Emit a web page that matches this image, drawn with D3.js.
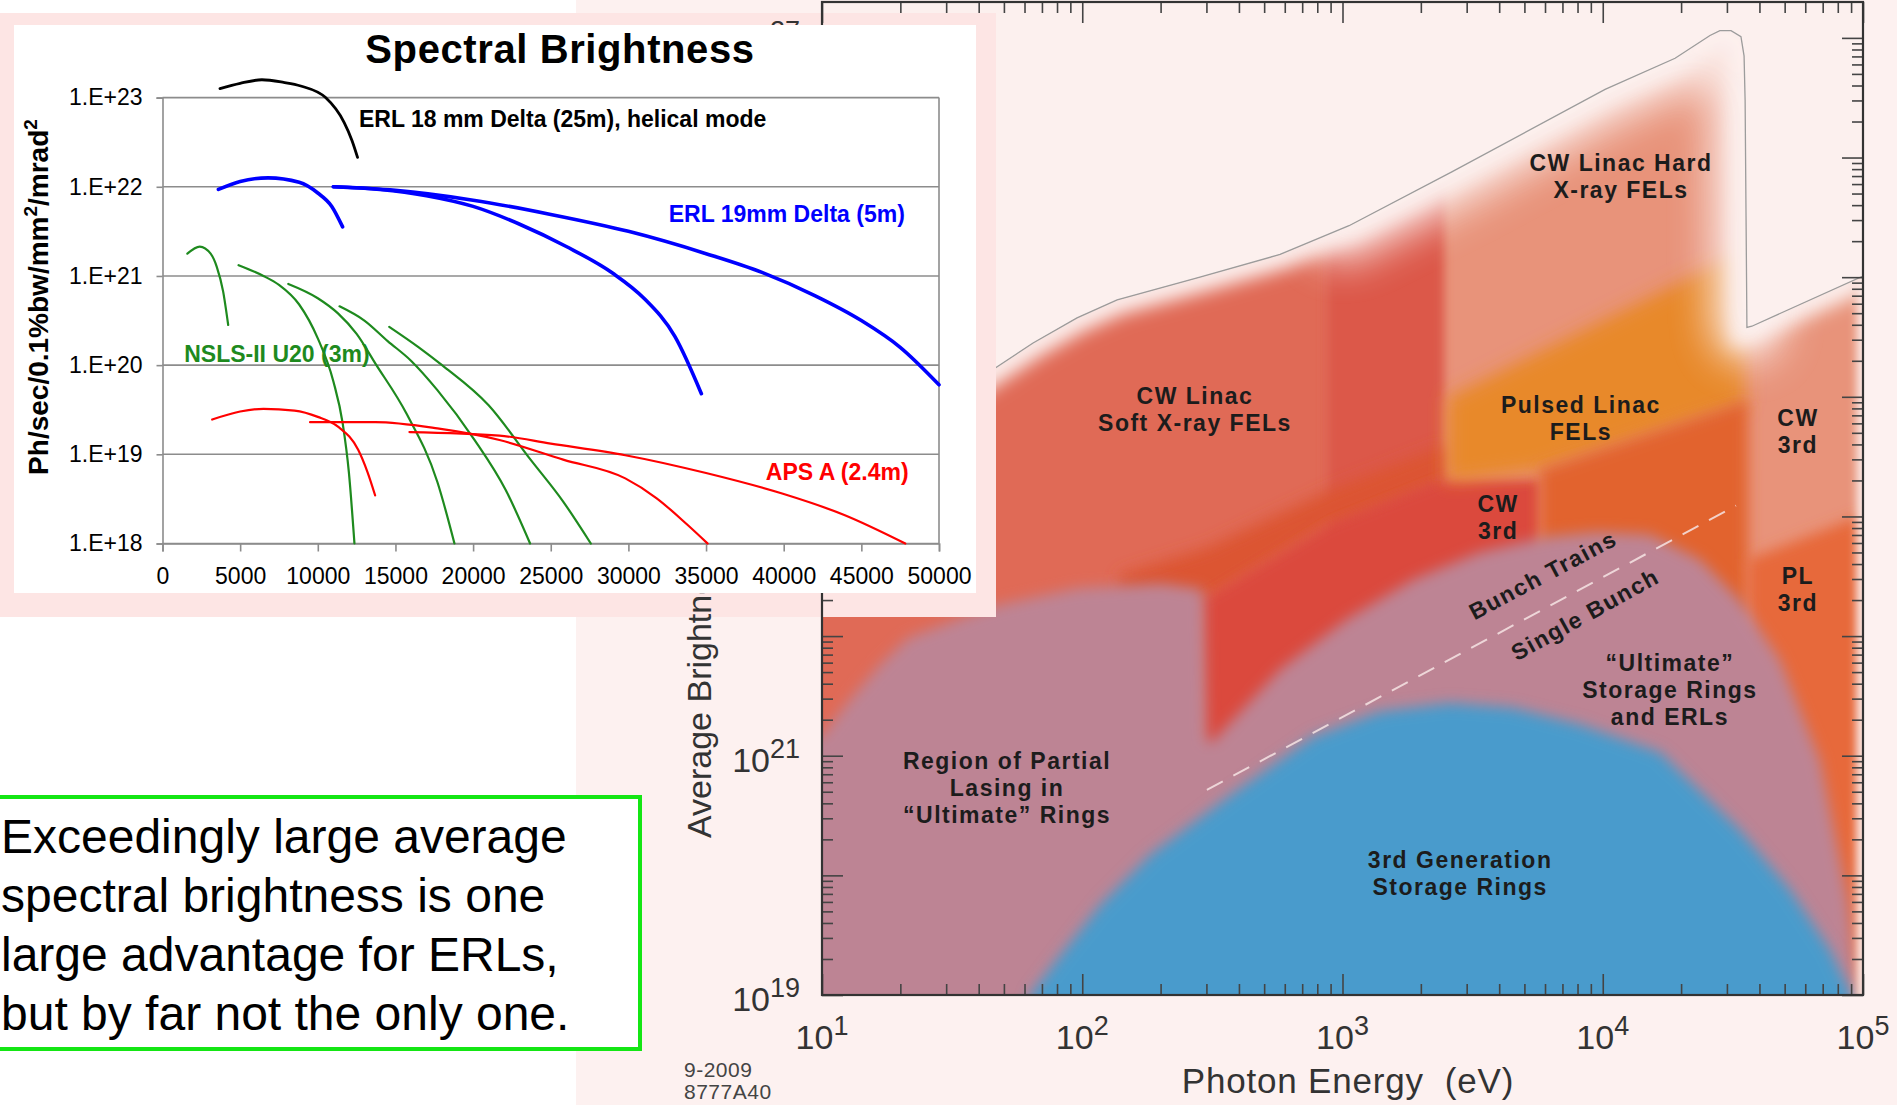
<!DOCTYPE html>
<html>
<head>
<meta charset="utf-8">
<script src="https://cdn.jsdelivr.net/npm/d3@7"></script>
<style>
  html, body { margin: 0; padding: 0; background: #fff; overflow: hidden; }
  svg { display: block; font-family: "Liberation Sans", Arial, Helvetica, sans-serif; }
</style>
</head>
<body>
<svg id="chart" width="1897" height="1105"></svg>
<script>
// ---------- inset "Spectral Brightness": [photon energy eV, log10 brightness] ----------
const insetXTicks = [0, 5000, 10000, 15000, 20000, 25000, 30000, 35000, 40000, 45000, 50000];
const insetYTicks = [18, 19, 20, 21, 22, 23];

const erl18Helical = [[3700, 23.10], [5000, 23.16], [6400, 23.20], [7800, 23.17], [8900, 23.13],
  [10500, 23.00], [11700, 22.72], [12200, 22.52], [12560, 22.33]];

const erl19Delta = [
  [[3600, 21.97], [5000, 22.06], [6800, 22.10], [8800, 22.05], [10000, 21.93], [10900, 21.78], [11600, 21.55]],
  [[11000, 22.0], [14000, 21.97], [17000, 21.9], [20000, 21.78], [23000, 21.58], [26000, 21.33],
   [29000, 21.03], [31000, 20.75], [33000, 20.32], [34700, 19.68]],
  [[11000, 22.0], [15000, 21.96], [20000, 21.85], [25000, 21.69], [30000, 21.5], [35000, 21.25],
   [38600, 21.04], [42000, 20.78], [45000, 20.5], [47500, 20.2], [50000, 19.78]]
];

const nslsU20 = [
  [[1600, 21.25], [2400, 21.33], [3100, 21.25], [3500, 21.1], [3900, 20.83], [4230, 20.45]],
  [[4900, 21.12], [6500, 21.0], [7500, 20.9], [8800, 20.68], [10000, 20.3], [11000, 19.82],
   [11600, 19.35], [12000, 18.8], [12360, 18.0]],
  [[8100, 20.91], [10000, 20.75], [11300, 20.58], [12500, 20.35], [13700, 20.02], [15700, 19.46],
   [17700, 18.69], [18800, 18.0]],
  [[11400, 20.66], [13000, 20.5], [14500, 20.27], [16000, 20.05], [17700, 19.72], [20100, 19.16],
   [22100, 18.6], [23670, 18.0]],
  [[14600, 20.43], [16500, 20.2], [18000, 20.0], [21000, 19.55], [23700, 18.94], [25800, 18.47], [27580, 18.0]]
];

const apsA = [
  [[3200, 19.39], [5000, 19.48], [6500, 19.51], [8500, 19.49], [10000, 19.42], [11300, 19.31],
   [12600, 19.05], [13200, 18.8], [13690, 18.54]],
  [[9500, 19.36], [13700, 19.36], [17700, 19.29], [21700, 19.16], [25800, 18.94], [29800, 18.73],
   [31800, 18.51], [33800, 18.21], [35100, 18.0]],
  [[15900, 19.25], [21700, 19.21], [25000, 19.12], [29800, 18.99], [35000, 18.79], [39900, 18.56],
   [43900, 18.32], [47830, 18.0]]
];

const insetSeries = [
  { name: "ERL 18 mm Delta (25m), helical mode", curves: [erl18Helical], color: "#000000", width: 2.8, label: [12650, 22.67] },
  { name: "ERL 19mm Delta (5m)", curves: erl19Delta, color: "#0000ff", width: 3.6, label: [32600, 21.6] },
  { name: "NSLS-II U20 (3m)", curves: nslsU20, color: "#1e8a1e", width: 2.2, label: [1400, 20.03] },
  { name: "APS A (2.4m)", curves: apsA, color: "#ff0000", width: 2.2, label: [38850, 18.71] }
];

// ---------- main chart regions: [log10 photon energy (eV), log10 average brightness] ----------
const xDecades = [1, 2, 3, 4, 5];
const yLabelDecades = [19, 21];
const topCutDecade = 27;   // only the tip of its exponent shows above the inset

const envelopeTop = [[0.9, 23.25], [1.0, 23.39], [1.30, 23.81], [1.596, 24.14], [1.811, 24.45], [1.98, 24.66],
  [2.134, 24.81], [2.452, 25.00], [2.76, 25.19], [3.025, 25.43], [3.42, 25.88], [4.009, 26.57],
  [4.278, 26.83], [4.412, 27.02], [4.45, 27.06], [4.493, 27.06], [4.531, 27.01], [4.543, 26.85],
  [4.547, 26.48], [4.554, 24.58], [4.573, 24.59], [5.0, 25.01]];
const hardXrayTop = [[3.0, 25.42], [3.42, 25.88], [4.009, 26.57], [4.278, 26.83], [4.412, 27.02],
  [4.493, 27.06], [4.531, 27.01], [4.547, 26.48], [4.554, 24.58]];

const softXrayFel = [[0.8, 28], [2.95, 28], [2.95, 18.5], [0.8, 18.5]];
const cw3rdColumn = [[2.935, 28], [3.39, 28], [3.39, 22.3], [2.935, 22.3]];
const cw3rdBand = [[2.145, 22.51], [2.479, 22.74], [2.952, 23.22], [3.394, 23.60], [3.394, 23.31],
  [2.952, 22.93], [2.479, 22.30], [2.145, 22.30]];
const cw3rdCore = [[2.46, 22.30], [2.952, 22.93], [3.394, 23.31], [3.759, 23.31], [3.759, 20.8], [2.46, 20.8]];
const pulsedLinac = [[3.402, 23.99], [4.547, 25.23], [4.547, 23.93], [3.759, 23.39], [3.402, 23.29]];
const pulsedOrangeRed = [[3.759, 23.39], [4.558, 23.97], [4.558, 22.14], [3.759, 22.14]];
const pl3rdColumn = [[4.558, 22.64], [4.996, 23.01], [4.996, 18.5], [4.558, 18.5]];
const ultimateRings = [[0.8, 21.0], [1.0, 21.17], [1.108, 21.47], [1.223, 21.76], [1.33, 21.985], [1.657, 22.25],
  [1.984, 22.40], [2.306, 22.44], [2.464, 22.39], [2.476, 21.12], [2.502, 21.12], [2.76, 21.72],
  [3.017, 22.14], [3.271, 22.47], [3.528, 22.70], [3.786, 22.83], [3.978, 22.87], [4.182, 22.85],
  [4.374, 22.64], [4.527, 22.30], [4.681, 21.80], [4.835, 20.96], [4.942, 19.79], [4.981, 19.0],
  [4.981, 18.5], [0.8, 18.5]];
const thirdGenRings = [[1.76, 18.5], [1.80, 19.0], [1.915, 19.33], [2.068, 19.75], [2.26, 20.17], [2.568, 20.67],
  [2.887, 21.16], [3.144, 21.37], [3.413, 21.44], [3.655, 21.40], [3.913, 21.26], [4.22, 21.03],
  [4.527, 20.38], [4.72, 19.88], [4.873, 19.38], [4.958, 19.0], [4.973, 18.5]];
const bunchDivider = [[2.479, 20.714], [4.512, 23.09]];

const regions = [
  { pts: softXrayFel, color: "#e06b56", blur: 5 },
  { pts: cw3rdColumn, color: "#dc5848", blur: 5 },
  { pts: cw3rdBand, color: "#dc5532", blur: 8 },
  { pts: cw3rdCore, color: "#db4a3e", blur: 6 },
  { pts: pulsedLinac, color: "#e8892c", blur: 9 },
  { pts: pulsedOrangeRed, color: "#e2632f", blur: 7 },
  { pts: pl3rdColumn, color: "#e7693a", blur: 7 },
  { pts: ultimateRings, color: "#bd8494", blur: 7 },
  { pts: thirdGenRings, color: "#4a9bcc", blur: 7 }
];

const regionLabels = [
  { lines: ["CW Linac Hard", "X-ray FELs"], at: [4.07, 25.84] },
  { lines: ["CW Linac", "Soft X-ray FELs"], at: [2.433, 23.895] },
  { lines: ["Pulsed Linac", "FELs"], at: [3.916, 23.82] },
  { lines: ["CW", "3rd"], at: [4.75, 23.71] },
  { lines: ["CW", "3rd"], at: [3.598, 22.99] },
  { lines: ["PL", "3rd"], at: [4.75, 22.386] },
  { lines: ["\u201CUltimate\u201D", "Storage Rings", "and ERLs"], at: [4.258, 21.55] },
  { lines: ["Region of Partial", "Lasing in", "\u201CUltimate\u201D Rings"], at: [1.711, 20.73] },
  { lines: ["3rd Generation", "Storage Rings"], at: [3.452, 20.016] },
  { lines: ["Bunch Trains"], at: [3.77, 22.51], angle: -28 },
  { lines: ["Single Bunch"], at: [3.932, 22.18], angle: -29 }
];

const noteLines = ["Exceedingly large average", "spectral brightness is one",
  "large advantage for ERLs,", "but by far not the only one."];

// ---------------------------------------------------------------------------
const svg = d3.select("#chart");
const defs = svg.append("defs");
const BG = "#fcf0ee";

function blurFilter(id, sd) {
  defs.append("filter").attr("id", id)
    .attr("filterUnits", "userSpaceOnUse")
    .attr("x", 0).attr("y", 0).attr("width", 1897).attr("height", 1105)
    .append("feGaussianBlur").attr("stdDeviation", sd);
  return `url(#${id})`;
}

// page backgrounds
svg.append("rect").attr("width", 1897).attr("height", 1105).attr("fill", "#fff");
svg.append("rect").attr("x", 576).attr("y", 0).attr("width", 1321).attr("height", 1105).attr("fill", "#fdf1f0");

// main chart scales
const bx = d3.scaleLog().domain([10, 1e5]).range([822, 1863]);
const by = d3.scaleLog().domain([1e19, 10 ** 27.3]).range([995, 2]);
const rline = d3.line().x(p => bx(10 ** p[0])).y(p => by(10 ** p[1]));
const poly = pts => rline(pts) + "Z";

defs.append("clipPath").attr("id", "plotClip")
  .append("rect").attr("x", 822).attr("y", 2).attr("width", 1041).attr("height", 993);
const envelope = envelopeTop.concat([[5.0, 18.5], [0.9, 18.5]]);
defs.append("clipPath").attr("id", "envClip").append("path").attr("d", poly(envelope));

const plot = svg.append("g").attr("clip-path", "url(#plotClip)");
plot.append("rect").attr("x", 822).attr("y", 2).attr("width", 1041).attr("height", 993).attr("fill", BG);

const env = plot.append("g").attr("clip-path", "url(#envClip)");
env.append("rect").attr("x", 800).attr("y", 0).attr("width", 1100).attr("height", 1100).attr("fill", "#e8937a");

regions.forEach((r, i) => {
  env.append("path").attr("d", poly(r.pts)).attr("fill", r.color)
    .attr("filter", blurFilter("rb" + i, r.blur));
});

// pale fade just under the envelope edge and along the right frame
env.append("path").attr("d", rline(envelopeTop))
  .attr("fill", "none").attr("stroke", BG).attr("stroke-width", 30)
  .attr("filter", blurFilter("fadeTop", 9));
env.append("path").attr("d", rline(hardXrayTop))
  .attr("fill", "none").attr("stroke", BG).attr("stroke-width", 70)
  .attr("stroke-linecap", "round").attr("opacity", 0.9)
  .attr("filter", blurFilter("fadeHard", 20));
env.append("path").attr("d", rline([[5.0, 25.2], [5.0, 18.5]]))
  .attr("fill", "none").attr("stroke", BG).attr("stroke-width", 12)
  .attr("filter", blurFilter("fadeRight", 5));

// envelope outline
plot.append("path").attr("d", rline(envelopeTop))
  .attr("fill", "none").attr("stroke", "#9c9c9c").attr("stroke-width", 1.3);

// divider between bunch trains / single bunch
plot.append("path").attr("d", rline(bunchDivider))
  .attr("fill", "none").attr("stroke", "#f6e4e4").attr("stroke-width", 2)
  .attr("stroke-dasharray", "18,12").attr("opacity", 0.85);

// region labels
regionLabels.forEach(l => {
  const cx = bx(10 ** l.at[0]), cy = by(10 ** l.at[1]);
  const t = plot.append("text")
    .attr("transform", `translate(${cx},${cy}) rotate(${l.angle || 0})`)
    .attr("text-anchor", "middle")
    .attr("font-size", 23).attr("font-weight", "bold")
    .attr("letter-spacing", 1.5).attr("fill", "#1c1c1c");
  const n = l.lines.length;
  l.lines.forEach((s, i) => {
    t.append("tspan").attr("x", 0).attr("y", (i - (n - 1) / 2) * 27 + 8).text(s);
  });
});

// pink shadow behind the inset
svg.append("rect").attr("x", 0).attr("y", 13).attr("width", 996).attr("height", 604).attr("fill", "#fde5e4");

// main axes: frame + inward log ticks on all four sides
const isDecade = v => Math.abs(Math.log10(v) - Math.round(Math.log10(v))) < 1e-6;
const xAll = bx.ticks(20), yAll = by.ticks(20);
const axes = svg.append("g");
function ticks(axisFn, scale, vals, len, tr) {
  axes.append("g").attr("transform", tr)
    .call(axisFn(scale).tickValues(vals).tickSize(-len).tickSizeOuter(0).tickFormat(""))
    .call(a => a.select(".domain").remove())
    .call(a => a.selectAll("line").attr("stroke", "#444").attr("stroke-width", 1.6));
}
[[d3.axisBottom, bx, xAll, "translate(0,995)"], [d3.axisTop, bx, xAll, "translate(0,2)"],
 [d3.axisLeft, by, yAll, "translate(822,0)"], [d3.axisRight, by, yAll, "translate(1863,0)"]]
  .forEach(([fn, sc, vals, tr]) => {
    ticks(fn, sc, vals.filter(v => !isDecade(v)), 11, tr);
    ticks(fn, sc, vals.filter(isDecade), 21, tr);
  });
axes.append("rect").attr("x", 822).attr("y", 2).attr("width", 1041).attr("height", 993)
  .attr("fill", "none").attr("stroke", "#333").attr("stroke-width", 2.2);

function powLabel(g, x, y, exp, anchor) {
  const t = g.append("text").attr("x", x).attr("y", y).attr("text-anchor", anchor)
    .attr("fill", "#333").attr("font-size", 34);
  t.append("tspan").text("10");
  t.append("tspan").attr("dy", -14).attr("font-size", 27).text(exp);
}
xDecades.forEach(e => powLabel(axes, bx(10 ** e), 1049, e, "middle"));
yLabelDecades.forEach(e => powLabel(axes, 800, by(10 ** e) + 16, e, "end"));
// exponent of the top label peeking out above the inset
axes.append("text").attr("x", 800).attr("y", by(10 ** topCutDecade) + 2).attr("text-anchor", "end")
  .attr("fill", "#333").attr("font-size", 27).text(topCutDecade);

axes.append("text").attr("x", 1348).attr("y", 1093).attr("text-anchor", "middle")
  .attr("font-size", 35).attr("letter-spacing", 0.8).attr("fill", "#333")
  .text("Photon Energy\u00A0\u00A0(eV)");
axes.append("text").attr("transform", "translate(711,838) rotate(-90)")
  .attr("font-size", 34).attr("fill", "#333")
  .text("Average Brightness (ph/s/mm\u00B2/mrad\u00B2/0.1%bw)");
axes.append("text").attr("x", 684).attr("y", 1077).attr("font-size", 21).attr("letter-spacing", 0.5)
  .attr("fill", "#444").text("9-2009");
axes.append("text").attr("x", 684).attr("y", 1099).attr("font-size", 21).attr("letter-spacing", 0.5)
  .attr("fill", "#444").text("8777A40");

// ---------- inset chart ----------
const inset = svg.append("g");
inset.append("rect").attr("x", 14).attr("y", 25).attr("width", 962).attr("height", 568).attr("fill", "#fff");

const ix = d3.scaleLinear().domain([0, 50000]).range([162.5, 939]);
const iy = d3.scaleLinear().domain([18, 23]).range([543.5, 97.6]);

inset.append("g").selectAll("line").data(insetYTicks).join("line")
  .attr("x1", ix(0)).attr("x2", ix(50000))
  .attr("y1", d => iy(d)).attr("y2", d => iy(d))
  .attr("stroke", "#8c8c8c").attr("stroke-width", 1.6);
inset.append("line").attr("x1", ix(50000)).attr("x2", ix(50000))
  .attr("y1", iy(23)).attr("y2", iy(18)).attr("stroke", "#8c8c8c").attr("stroke-width", 1.6);

inset.append("g").attr("transform", `translate(${ix(0)},0)`)
  .call(d3.axisLeft(iy).tickValues(insetYTicks).tickSize(6).tickPadding(14).tickFormat(d => "1.E+" + d))
  .call(a => a.selectAll("line, .domain").attr("stroke", "#8c8c8c").attr("stroke-width", 1.6))
  .call(a => a.selectAll("text").attr("font-size", 23).attr("fill", "#000")
    .attr("font-family", "'Liberation Sans', Arial, sans-serif"));
inset.append("g").attr("transform", `translate(0,${iy(18)})`)
  .call(d3.axisBottom(ix).tickValues(insetXTicks).tickSize(8).tickPadding(16).tickFormat(d3.format("d")))
  .call(a => a.selectAll("line, .domain").attr("stroke", "#8c8c8c").attr("stroke-width", 1.6))
  .call(a => a.selectAll("text").attr("font-size", 23).attr("fill", "#000")
    .attr("font-family", "'Liberation Sans', Arial, sans-serif"));

const iline = d3.line().x(d => ix(d[0])).y(d => iy(d[1])).curve(d3.curveMonotoneX);
insetSeries.forEach(s => {
  inset.append("g").selectAll("path").data(s.curves).join("path")
    .attr("d", iline).attr("fill", "none")
    .attr("stroke", s.color).attr("stroke-width", s.width)
    .attr("stroke-linecap", "round").attr("stroke-linejoin", "round");
  inset.append("text").attr("x", ix(s.label[0])).attr("y", iy(s.label[1]))
    .attr("font-size", 23).attr("font-weight", "bold").attr("fill", s.color).text(s.name);
});

inset.append("text").attr("x", 560).attr("y", 63).attr("text-anchor", "middle")
  .attr("font-size", 40).attr("font-weight", "bold").attr("letter-spacing", 0.6)
  .text("Spectral Brightness");

const yl = inset.append("text").attr("transform", "translate(48,297) rotate(-90)")
  .attr("text-anchor", "middle").attr("font-size", 28).attr("font-weight", "bold");
yl.append("tspan").text("Ph/sec/0.1%bw/mm");
yl.append("tspan").attr("dy", -11).attr("font-size", 19).text("2");
yl.append("tspan").attr("dy", 11).text("/mrad");
yl.append("tspan").attr("dy", -11).attr("font-size", 19).text("2");

// ---------- note box ----------
const note = svg.append("g");
note.append("rect").attr("x", -4).attr("y", 797).attr("width", 644).attr("height", 252)
  .attr("fill", "#fff").attr("stroke", "#14e614").attr("stroke-width", 4);
note.selectAll("text").data(noteLines).join("text")
  .attr("x", 1).attr("y", (d, i) => 853 + i * 59)
  .attr("font-size", 48).attr("fill", "#000").text(d => d);
</script>
</body>
</html>
